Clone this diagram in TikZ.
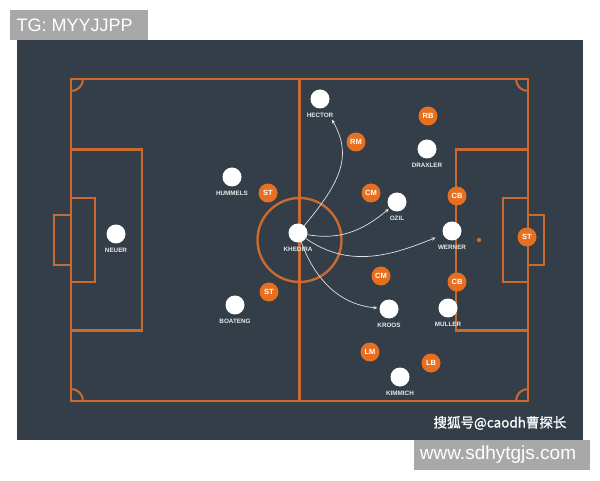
\documentclass[tikz,border=0pt]{standalone}
\usepackage{fontspec}
\setmainfont{Liberation Sans}
\newfontfamily\cjkfont[FakeBold=1]{Noto Sans CJK SC}
\usetikzlibrary{arrows.meta}
\definecolor{pitch}{RGB}{51,62,72}
\definecolor{chalk}{RGB}{201,106,48}
\definecolor{marker}{RGB}{230,112,32}
\definecolor{badge}{RGB}{168,168,168}

\begin{document}
\begin{tikzpicture}[x=1pt,y=1pt,label distance=4pt,
			line/.style={draw=chalk,line width=2.4pt},
			player/.style={circle,fill=white,minimum size=19pt,inner sep=0pt},
			role/.style={circle,fill=marker,minimum size=19pt,inner sep=0pt,text=white,font=\bfseries\fontsize{7.5}{8}\selectfont},
			plabel/.style={text=white!88!pitch,font=\bfseries\fontsize{6.3}{7}\selectfont,inner sep=0pt},
			run/.style={draw=white!85!pitch,line width=0.7pt,-{Stealth[length=4pt,width=3.5pt]}}]
			\useasboundingbox[fill=white] (0,0) rectangle (600,480);
			\fill[pitch] (17,40) rectangle (583,440);
			\fill[badge] (10,440) rectangle (148,470);
			\node[anchor=west,text=white,font=\fontsize{18}{20}\selectfont] (tag) at (13,455) {TG: MYYJJPP};
			\fill[badge] (414,10) rectangle (590,40);
			\node[text=white,font=\fontsize{19}{21}\selectfont] (site) at (498,25) {www.sdhytgjs.com};
			\node[text=white,font=\cjkfont\fontsize{13.5}{15}\selectfont] (mark) at (500,57) {搜狐号@caodh曹探长};

			\draw[line] (71,79) rectangle (528,401);
			\draw[line] (299.5,79) -- (299.5,401);
			\draw[line] (299.5,240) circle[radius=42];
			\draw[line] (71,149.5) rectangle (142,330.5);
			\draw[line] (71,198) rectangle (95,282);
			\draw[line] (71,215) -- (54,215) -- (54,265) -- (71,265);
			\draw[line] (528,149.5) rectangle (456,330.5);
			\draw[line] (528,198) rectangle (503,282);
			\draw[line] (528,215) -- (544,215) -- (544,265) -- (528,265);
			\draw[line,line width=2pt] (83,401) arc[start angle=0,end angle=-90,radius=12];
			\draw[line,line width=2pt] (516,401) arc[start angle=180,end angle=270,radius=12];
			\draw[line,line width=2pt] (71,91) arc[start angle=90,end angle=0,radius=12];
			\draw[line,line width=2pt] (516,79) arc[start angle=180,end angle=90,radius=12];
			\fill[chalk] (479,240) circle[radius=2.2];

			\node[player,label={[plabel]below:NEUER}] (neuer) at (116,246) {};
			\node[player,label={[plabel]below:HUMMELS}] (hummels) at (232,303) {};
			\node[player,label={[plabel]below:BOATENG}] (boateng) at (235,175) {};
			\node[player,label={[plabel]below:KHEDIRA}] (khedira) at (298,247) {};
			\node[player,label={[plabel]below:HECTOR}] (hector) at (320,381) {};
			\node[player,label={[plabel]below:DRAXLER}] (draxler) at (427,331) {};
			\node[player,label={[plabel]below:OZIL}] (ozil) at (397,278) {};
			\node[player,label={[plabel]below:WERNER}] (werner) at (452,249) {};
			\node[player,label={[plabel]below:KROOS}] (kroos) at (389,171) {};
			\node[player,label={[plabel]below:MULLER}] (muller) at (448,172) {};
			\node[player,label={[plabel]below:KIMMICH}] (kimmich) at (400,103) {};

			\node[role] (st1) at (268,287) {ST};
			\node[role] (st2) at (269,188) {ST};
			\node[role] (rm) at (356,338) {RM};
			\node[role] (rb) at (428,364) {RB};
			\node[role] (cm1) at (371,287) {CM};
			\node[role] (cb1) at (457,284) {CB};
			\node[role] (st3) at (527,243) {ST};
			\node[role] (cm2) at (381,204) {CM};
			\node[role] (cb2) at (457,198) {CB};
			\node[role] (lm) at (370,128) {LM};
			\node[role] (lb) at (431,117) {LB};

			\draw[run,shorten >=14pt] (khedira) to[out=50,in=-60,looseness=1.2] (hector);
			\draw[run,shorten >=1pt] (khedira) to[out=-10,in=-140] (ozil);
			\draw[run,shorten >=8pt] (khedira) to[out=-35,in=-158] (werner);
			\draw[run,shorten >=2pt] (khedira) to[out=-70,in=175] (kroos);
			\end{tikzpicture}
\end{document}
